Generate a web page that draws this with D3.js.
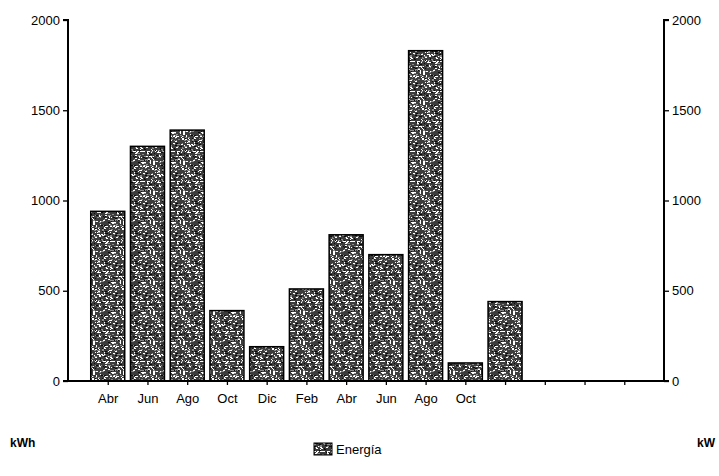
<!DOCTYPE html>
<html><head><meta charset="utf-8">
<script src="https://cdn.jsdelivr.net/npm/d3@7"></script>
<style>body{margin:0;background:#fff}svg{display:block;font-family:"Liberation Sans",Arial,sans-serif}</style>
</head><body>
<svg id="c" width="719" height="476"></svg>
<script>
const categories = ["Abr","Jun","Ago","Oct","Dic","Feb","Abr","Jun","Ago","Oct",""];
const energia = [940,1300,1390,390,190,510,810,700,1830,100,440];
const yTicks = [0,500,1000,1500,2000];
const seriesName = "Energía";
const leftUnit = "kWh", rightUnit = "kW";

const svg = d3.select("#c");
const X0 = 68, X1 = 664, Y0 = 381, Y1 = 20;
const nSlots = 15;
const x = d3.scaleLinear().domain([0, nSlots]).range([X0, X1]);
const y = d3.scaleLinear().domain([0, 2000]).range([Y0, Y1]);

// texture pattern (deterministic speckle)
const defs = svg.append("defs");
const P = 30;
const pat = defs.append("pattern").attr("id","tex").attr("patternUnits","userSpaceOnUse")
  .attr("width",P).attr("height",P);
pat.append("rect").attr("width",P).attr("height",P).attr("fill","#3c3c3c");
let s = 98765;
function h(){ s = (s*1103515245 + 12345) & 0x7fffffff; return s/0x7fffffff; }
for(let i=0;i<260;i++){
  const px = Math.floor(h()*P), py = Math.floor(h()*P), w = 1+Math.floor(h()*2);
  const c = h();
  pat.append("rect").attr("x",px).attr("y",py).attr("width",w).attr("height",1)
    .attr("fill", c<0.45 ? "#ffffff" : (c<0.8 ? "#8c8c8c" : "#0a0a0a"));
}

const idx = d3.range(categories.length);
const bw = 34;
svg.append("g").selectAll("rect").data(idx).join("rect")
  .attr("x", i => x(i+1) - bw/2)
  .attr("y", i => y(energia[i]))
  .attr("width", bw)
  .attr("height", i => Y0 - y(energia[i]))
  .attr("fill","url(#tex)")
  .attr("stroke","#000").attr("stroke-width",1.5);

// axes
const left = svg.append("g").attr("transform",`translate(${X0},0)`)
  .call(d3.axisLeft(y).tickValues(yTicks).tickSize(5).tickPadding(3).tickFormat(d3.format("d")));
const right = svg.append("g").attr("transform",`translate(${X1},0)`)
  .call(d3.axisRight(y).tickValues(yTicks).tickSize(5).tickPadding(3).tickFormat(d3.format("d")));
const bottom = svg.append("g").attr("transform",`translate(0,${Y0})`)
  .call(d3.axisBottom(x).tickValues(d3.range(1,nSlots)).tickSize(4).tickPadding(9)
    .tickFormat(d => categories[d-1] || ""));
[left,right,bottom].forEach(g=>{
  g.selectAll(".domain").attr("stroke","#000").attr("stroke-width",2);
  g.selectAll(".tick line").attr("stroke","#000").attr("stroke-width",1.3);
  g.selectAll("text").attr("fill","#000").attr("font-size",13);
});
left.select(".domain").attr("d",`M-5,${Y1}H0V${Y0}H-5`);
right.select(".domain").attr("d",`M5,${Y1}H0V${Y0}H5`);
bottom.select(".domain").attr("d",`M${X0-4},0H${X1}`);

// unit labels
svg.append("text").attr("x",10).attr("y",447).attr("font-size",12).attr("font-weight","bold").text(leftUnit);
svg.append("text").attr("x",697).attr("y",447).attr("font-size",12).attr("font-weight","bold").text(rightUnit);

// legend
svg.append("rect").attr("x",314).attr("y",443).attr("width",18).attr("height",12)
  .attr("fill","url(#tex)").attr("stroke","#000").attr("stroke-width",1);
svg.append("text").attr("x",336).attr("y",454).attr("font-size",13).text(seriesName);
</script>
</body></html>
